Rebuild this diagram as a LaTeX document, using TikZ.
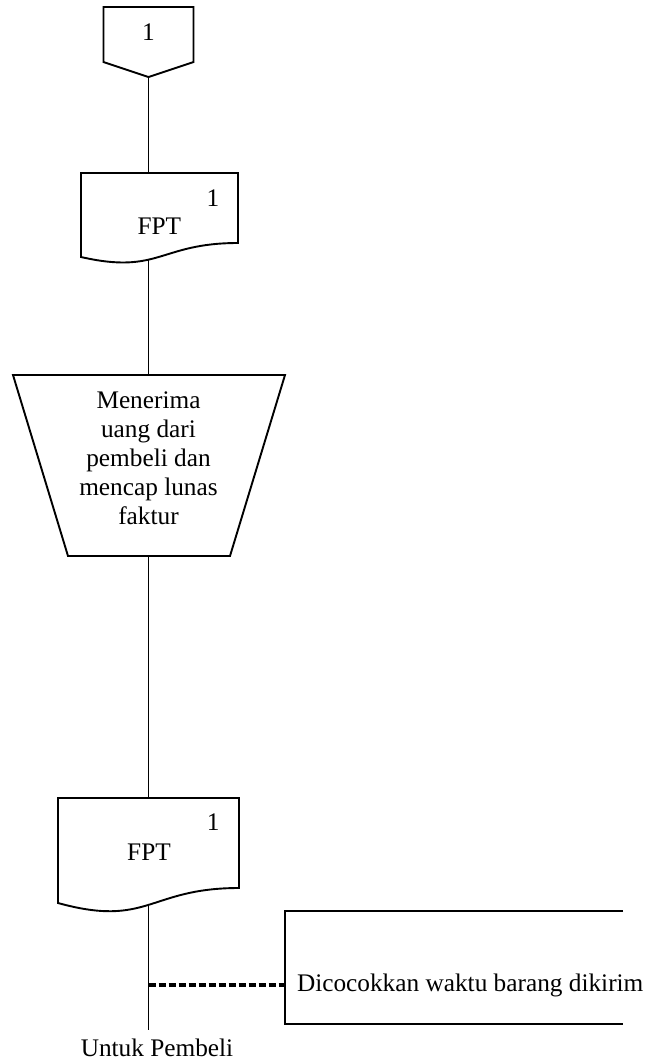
\documentclass[tikz,border=0pt]{standalone}
\usepackage{fontspec}
\setmainfont{Liberation Serif}
\begin{document}
\begin{tikzpicture}[x=1pt,y=-1pt,
  every node/.style={font=\fontsize{25.3}{29}\selectfont, inner sep=0pt, outer sep=0pt},
  outline/.style={draw=black, line width=1.9pt, line join=miter},
  flow/.style={draw=black, line width=1.9pt},
  notelink/.style={draw=black, line width=3.2pt, dash pattern=on 7pt off 3pt},
  box/.style={draw=none, rectangle}]

\useasboundingbox (0,0) rectangle (645,1061);

% off-page connector
\node[box, minimum width=90pt, minimum height=70pt] (conn) at (148.5,42) {};
\draw[outline] (103.5,7) -- (193.5,7) -- (193.5,62) -- (148.5,77) -- (103.5,62) -- cycle;
\node[anchor=base] (connlbl) at (148.5,40.7) {1};

% first copy of the invoice
\node[box, minimum width=157pt, minimum height=87pt] (doc1) at (159.5,216.5) {};
\draw[outline] (81,173) -- (238,173) -- (238,243)
  .. controls (159.5,243) and (159.5,275) .. (81,257) -- cycle;
\node[anchor=base] (doc1num) at (213,206.5) {1};
\node[anchor=base] (doc1txt) at (159.3,234) {FPT};

% manual operation
\node[box, minimum width=272pt, minimum height=181pt] (proc) at (149,465.5) {};
\draw[outline] (13,375) -- (285,375) -- (230,556) -- (68,556) -- cycle;
\node[align=center] (proctxt) at (148.5,458.4)
  {Menerima\\uang dari\\pembeli dan\\mencap lunas\\faktur};

% stamped invoice
\node[box, minimum width=181pt, minimum height=107pt] (doc2) at (148.5,851.5) {};
\draw[outline] (58,798) -- (239,798) -- (239,888)
  .. controls (148.5,888) and (148.5,928) .. (58,903) -- cycle;
\node[anchor=base] (doc2num) at (213.3,830.5) {1};
\node[anchor=base] (doc2txt) at (149,860) {FPT};

% destination
\node[anchor=base, inner ysep=8.7pt] (buyer) at (157,1056) {Untuk Pembeli};

% annotation bracket
\node[box, minimum width=338pt, minimum height=113pt] (note) at (454,967.5) {};
\draw[outline] (note.north east) -- (note.north west) -- (note.south west) -- (note.south east);
\node[anchor=base west] (notetxt) at (297,991.7) {Dicocokkan waktu barang dikirim};

% flow lines
\draw[flow] (conn.south) -- (conn.south |- doc1.north);
\draw[flow] (conn.south |- doc1.south) -- (conn.south |- proc.north);
\draw[flow] (conn.south |- proc.south) -- (conn.south |- doc2.north);
\draw[flow] (doc2.south) -- (doc2.south |- buyer.north);
\coordinate (tap) at (148.5,985);
\draw[notelink] (tap) -- (tap -| note.west);
\end{tikzpicture}
\end{document}
